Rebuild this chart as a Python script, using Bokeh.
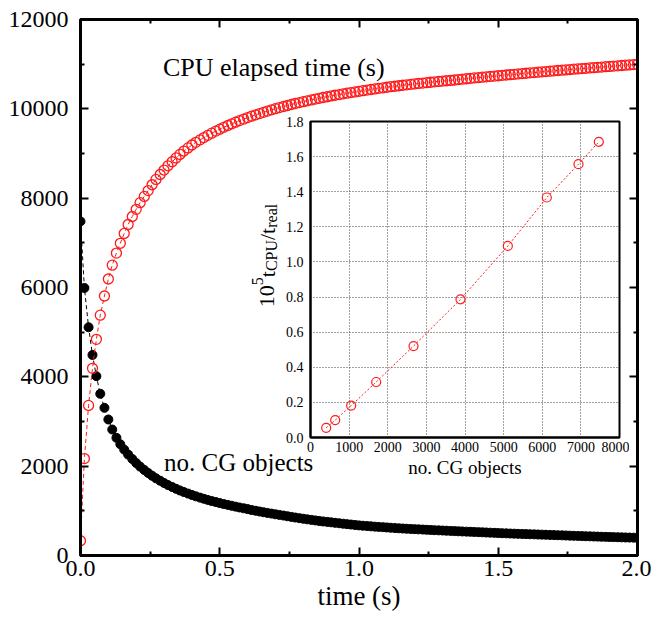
import math
from bokeh.plotting import figure
from bokeh.models import Range1d, LinearAxis, FixedTicker, Label, NumeralTickFormatter, CustomJSTickFormatter
from bokeh.layouts import column
from bokeh.embed import file_html
from bokeh.resources import INLINE

FONT = "Liberation Serif"

# ---------------- data ----------------
time_s = [
    0.0, 0.014, 0.029, 0.043, 0.057, 0.071, 0.086,
    0.1, 0.114, 0.129, 0.143, 0.157, 0.171, 0.186,
    0.2, 0.214, 0.229, 0.243, 0.257, 0.271, 0.286,
    0.3, 0.314, 0.329, 0.343, 0.357, 0.371, 0.386,
    0.4, 0.414, 0.429, 0.443, 0.457, 0.471, 0.486,
    0.5, 0.514, 0.529, 0.543, 0.557, 0.571, 0.586,
    0.6, 0.614, 0.629, 0.643, 0.657, 0.671, 0.686,
    0.7, 0.714, 0.729, 0.743, 0.757, 0.771, 0.786,
    0.8, 0.814, 0.829, 0.843, 0.857, 0.871, 0.886,
    0.9, 0.914, 0.929, 0.943, 0.957, 0.971, 0.986,
    1.0, 1.014, 1.029, 1.043, 1.057, 1.071, 1.086,
    1.1, 1.114, 1.129, 1.143, 1.157, 1.171, 1.186,
    1.2, 1.214, 1.229, 1.243, 1.257, 1.271, 1.286,
    1.3, 1.314, 1.329, 1.343, 1.357, 1.371, 1.386,
    1.4, 1.414, 1.429, 1.443, 1.457, 1.471, 1.486,
    1.5, 1.514, 1.529, 1.543, 1.557, 1.571, 1.586,
    1.6, 1.614, 1.629, 1.643, 1.657, 1.671, 1.686,
    1.7, 1.714, 1.729, 1.743, 1.757, 1.771, 1.786,
    1.8, 1.814, 1.829, 1.843, 1.857, 1.871, 1.886,
    1.9, 1.914, 1.929, 1.943, 1.957, 1.971, 1.986,
    2.0,
]

cpu_elapsed = [
    330, 2170, 3360, 4190, 4840, 5380, 5810,
    6190, 6500, 6770, 6990, 7210, 7410, 7590,
    7750, 7900, 8040, 8170, 8300, 8420, 8530,
    8630, 8725, 8815, 8900, 8980, 9055, 9125,
    9190, 9250, 9305, 9357, 9407, 9455, 9501,
    9545, 9587, 9627, 9665, 9702, 9737, 9771,
    9804, 9835, 9865, 9894, 9922, 9950, 9977,
    10003, 10028, 10052, 10075, 10097, 10119, 10140,
    10160, 10180, 10199, 10218, 10236, 10254, 10271,
    10288, 10304, 10320, 10335, 10350, 10365, 10379,
    10393, 10407, 10420, 10433, 10446, 10459, 10471,
    10483, 10495, 10506, 10517, 10528, 10538, 10548,
    10558, 10568, 10577, 10586, 10595, 10604, 10613,
    10621, 10629, 10637, 10646, 10655, 10664, 10673,
    10682, 10691, 10699, 10708, 10716, 10725, 10733,
    10741, 10749, 10757, 10765, 10773, 10781, 10789,
    10797, 10805, 10812, 10820, 10828, 10835, 10843,
    10850, 10858, 10865, 10872, 10880, 10887, 10894,
    10901, 10908, 10915, 10922, 10929, 10936, 10943,
    10950, 10957, 10963, 10970, 10977, 10983, 10990,
    10996,
]

cg_objects = [
    7480, 5990, 5110, 4490, 4015, 3620, 3306,
    3045, 2820, 2635, 2490, 2370, 2260, 2160,
    2070, 1990, 1915, 1848, 1785, 1728, 1674,
    1624, 1578, 1534, 1494, 1456, 1421, 1387,
    1355, 1325, 1296, 1270, 1244, 1220, 1197,
    1174, 1153, 1133, 1113, 1094, 1075, 1057,
    1039, 1019, 1002, 985, 969, 953, 938,
    923, 909, 894, 879, 864, 850, 836,
    823, 810, 797, 785, 773, 762, 752,
    742, 732, 722, 712, 702, 693, 683,
    674, 667, 660, 653, 646, 640, 634,
    628, 621, 615, 609, 604, 599, 594,
    590, 585, 581, 576, 572, 567, 563,
    559, 555, 550, 546, 542, 538, 534,
    531, 527, 523, 519, 515, 511, 507,
    503, 499, 496, 492, 489, 485, 482,
    479, 476, 473, 470, 467, 464, 460,
    457, 454, 451, 448, 444, 441, 438,
    435, 432, 429, 426, 423, 420, 417,
    414, 412, 409, 406, 404, 401, 399,
    396,
]

inset_cg_objects = [406, 639, 1053, 1700, 2667, 3883, 5109, 6118, 6938, 7465]
inset_cpu_ratio = [0.055, 0.099, 0.182, 0.316, 0.521, 0.787, 1.091, 1.367, 1.557, 1.684]

x_major = [0.0, 0.5, 1.0, 1.5, 2.0]
x_minor = [0.25, 0.75, 1.25, 1.75]
y_major = [0, 2000, 4000, 6000, 8000, 10000, 12000]
y_minor = [1000, 3000, 5000, 7000, 9000, 11000]
inset_x_ticks = [0, 1000, 2000, 3000, 4000, 5000, 6000, 7000, 8000]
inset_y_ticks = [0.0, 0.2, 0.4, 0.6, 0.8, 1.0, 1.2, 1.4, 1.6, 1.8]

# ---------------- main plot ----------------
p = figure(width=651, height=617, x_range=Range1d(0, 2), y_range=Range1d(0, 12000),
           output_backend="svg", toolbar_location=None,
           min_border_left=79, min_border_right=14, min_border_top=19, min_border_bottom=62)
p.grid.visible = False
p.outline_line_color = "black"
p.outline_line_width = 3
p.background_fill_color = "white"
p.border_fill_color = "white"

xt = FixedTicker(ticks=x_major, minor_ticks=x_minor)
yt = FixedTicker(ticks=y_major, minor_ticks=y_minor)

def style_axis(ax, ticker, show_labels=True):
    ax.ticker = ticker
    ax.axis_line_width = 3
    ax.axis_line_color = "black"
    ax.major_tick_in = 8
    ax.major_tick_out = 0
    ax.minor_tick_in = 4
    ax.minor_tick_out = 0
    ax.major_tick_line_width = 2
    ax.minor_tick_line_width = 2
    ax.major_label_text_font = FONT
    ax.major_label_text_color = "black"
    if show_labels:
        ax.major_label_text_font_size = "24px"
    else:
        ax.formatter = CustomJSTickFormatter(code="return ''")
        ax.major_label_text_font_size = "1px"
        ax.major_label_standoff = 0

style_axis(p.xaxis[0], xt)
p.xaxis[0].formatter = NumeralTickFormatter(format="0.0")
p.xaxis[0].major_label_standoff = 5
p.xaxis[0].axis_label = "time (s)"
p.xaxis[0].axis_label_text_font = FONT
p.xaxis[0].axis_label_text_font_size = "27px"
p.xaxis[0].axis_label_text_font_style = "normal"
p.xaxis[0].axis_label_text_color = "black"
p.xaxis[0].axis_label_standoff = 2

style_axis(p.yaxis[0], yt)
p.yaxis[0].formatter = NumeralTickFormatter(format="0")
p.yaxis[0].major_label_standoff = 12

top_ax = LinearAxis()
style_axis(top_ax, xt, show_labels=False)
p.add_layout(top_ax, "above")
right_ax = LinearAxis()
style_axis(right_ax, yt, show_labels=False)
p.add_layout(right_ax, "right")

p.line(time_s, cg_objects, line_color="black", line_width=1, line_dash="4 3")
p.scatter(time_s, cg_objects, size=9, marker="circle", fill_color="black", line_color="black")
p.line(time_s, cpu_elapsed, line_color="#ff1a1a", line_width=1, line_dash="4 3")
p.scatter(time_s, cpu_elapsed, size=10, marker="circle", fill_color=None,
          line_color="#ff1a1a", line_width=1.3)

p.add_layout(Label(x=0.296, y=10611, text="CPU elapsed time (s)", text_font=FONT,
                   text_font_size="26px", text_color="black"))
p.add_layout(Label(x=0.300, y=1791, text="no. CG objects", text_font=FONT,
                   text_font_size="25px", text_color="black"))

# inset y label (10^5 t_CPU / t_real), drawn rotated on the main canvas beside the inset
def px_to_main(px, py):
    return (px - 79) / 279.0, (555 - py) / 536.0 * 12000

F, S = 22, 16
pieces = [("10", F, 0.0, 1.0), ("5", S, -0.42 * F, 0.5), ("t", F, 0.0, 0.278),
          ("CPU", S, 0.22 * F, 1.945), ("/t", F, 0.0, 0.556), ("real", S, 0.22 * F, 1.5)]
total = sum(sz * w for _, sz, _, w in pieces)
base_px = 266.0
centre_py = 255.0
py = centre_py + total / 2
for txt, sz, dx, w in pieces:
    lx, ly = px_to_main(base_px + dx, py)
    p.add_layout(Label(x=lx, y=ly, text=txt, angle=math.pi / 2,
                       text_font=FONT, text_font_size=f"{sz}px", text_color="black",
                       text_align="left", text_baseline="alphabetic"))
    py -= sz * w

# ---------------- inset ----------------
ins = figure(frame_width=309, frame_height=316, x_range=Range1d(0, 8000), y_range=Range1d(0, 1.8),
             output_backend="svg", toolbar_location=None,
             min_border_left=80, min_border_top=16, min_border_right=10, min_border_bottom=50,
             background_fill_color="white", border_fill_color=None,
             styles={"position": "absolute", "left": "230px", "top": "105px"})
ins.outline_line_color = "black"
ins.outline_line_width = 2
for ax, tk in ((ins.xaxis[0], inset_x_ticks), (ins.yaxis[0], inset_y_ticks)):
    ax.ticker = FixedTicker(ticks=tk)
    ax.axis_line_width = 2
    ax.major_tick_in = 0
    ax.major_tick_out = 0
    ax.minor_tick_in = 0
    ax.minor_tick_out = 0
    ax.major_label_text_font = FONT
    ax.major_label_text_font_size = "14px"
    ax.major_label_text_color = "black"
    ax.major_label_standoff = 4
ins.xaxis[0].formatter = NumeralTickFormatter(format="0")
ins.yaxis[0].formatter = NumeralTickFormatter(format="0.0")
ins.yaxis[0].major_label_standoff = 7
ins.xaxis[0].axis_label = "no. CG objects"
ins.xaxis[0].axis_label_text_font = FONT
ins.xaxis[0].axis_label_text_font_size = "19px"
ins.xaxis[0].axis_label_text_font_style = "normal"
ins.xaxis[0].axis_label_text_color = "black"
ins.xaxis[0].axis_label_standoff = 2
ins.grid.grid_line_color = "#444444"
ins.grid.grid_line_dash = "1 2"
ins.grid.grid_line_width = 1

ins.line(inset_cg_objects, inset_cpu_ratio, line_color="#ff1a1a", line_width=1, line_dash="2 2")
ins.scatter(inset_cg_objects, inset_cpu_ratio, size=9, marker="circle", fill_color=None,
            line_color="#ff1a1a", line_width=1.2)

layout = column(p, ins)
open("out.html", "w").write(file_html(layout, INLINE))
